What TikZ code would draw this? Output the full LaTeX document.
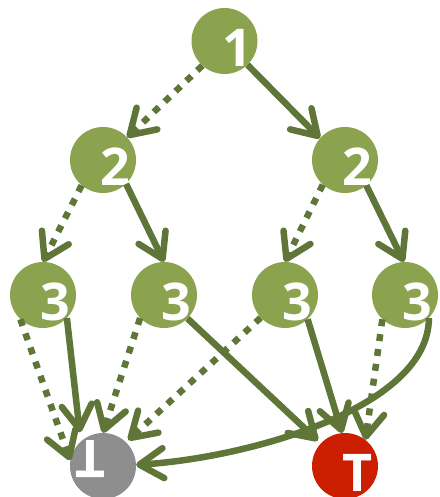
\documentclass[tikz,border=0pt]{standalone}
\usepackage{fontspec}
\setmainfont{Open Sans}
\usetikzlibrary{arrows.meta}
\definecolor{nodegreen}{RGB}{139,163,79}
\definecolor{edgegreen}{RGB}{96,117,56}
\definecolor{botgray}{RGB}{142,142,142}
\definecolor{topred}{RGB}{204,30,0}
\begin{document}
\begin{tikzpicture}[x=1pt,y=-1pt,
  state/.style={circle,minimum size=66pt,inner sep=0pt,fill=nodegreen},
  tag/.style={text=white,font=\bfseries\fontsize{52}{52}\selectfont,inner sep=0pt,text height=37pt,text depth=0pt},
  link/.style={draw=edgegreen,line width=6.5pt,-{Straight Barb[length=24pt,width=30pt,round]}},
  dots/.style={link,dash pattern=on 7pt off 8pt}]
\useasboundingbox (0,0) rectangle (439,497);

% decision nodes
\node[state] (n1) at (224.5,41) {};
\node[tag] (l1) at (237,48) {1};
\node[state] (n2a) at (103,160) {};
\node[tag] (l2a) at (115.5,167) {2};
\node[state] (n2b) at (345,160) {};
\node[tag] (l2b) at (357.5,167) {2};
\node[state] (n3a) at (43,295) {};
\node[tag] (l3a) at (55.5,302) {3};
\node[state] (n3b) at (164,295) {};
\node[tag] (l3b) at (176.5,302) {3};
\node[state] (n3c) at (285,295) {};
\node[tag] (l3c) at (297.5,302) {3};
\node[state] (n3d) at (405,295) {};
\node[tag] (l3d) at (417.5,302) {3};

% terminal nodes
\node[state,fill=botgray] (bot) at (103,466) {};
\node[tag,rotate=180] (lbot) at (90.5,459) {T};
\node[state,fill=topred] (top) at (345,466) {};
\node[tag] (ltop) at (357.5,473) {T};

% level 1 -> 2
\draw[dots] (n1.228) -- (n2a.43);
\draw[link] (n1.314) -- (n2b.139);
% level 2 -> 3
\draw[dots] (n2a.230) -- (n3a.90);
\draw[link] (n2a.314) -- (n3b.90);
\draw[dots] (n2b.228) -- (n3c.90);
\draw[link] (n2b.310) -- (n3d.92);
% level 3 -> terminals
\draw[dots] (n3a.227) -- (bot.170);
\draw[link,shorten >=9pt] (n3a.316) -- (bot.132);
\draw[dots] (n3b.224) -- (bot.90);
\draw[link,shorten >=4pt] (n3b.315) -- (top.137);
\draw[dots,shorten >=3pt] (n3c.223) -- (bot.46);
\draw[link] (n3c.313) -- (top.95);
\draw[dots] (n3d.227) -- (top.52);
\draw[link] (n3d.316) .. controls +(0,90) and +(112,-7) .. (bot.2);
\end{tikzpicture}
\end{document}
